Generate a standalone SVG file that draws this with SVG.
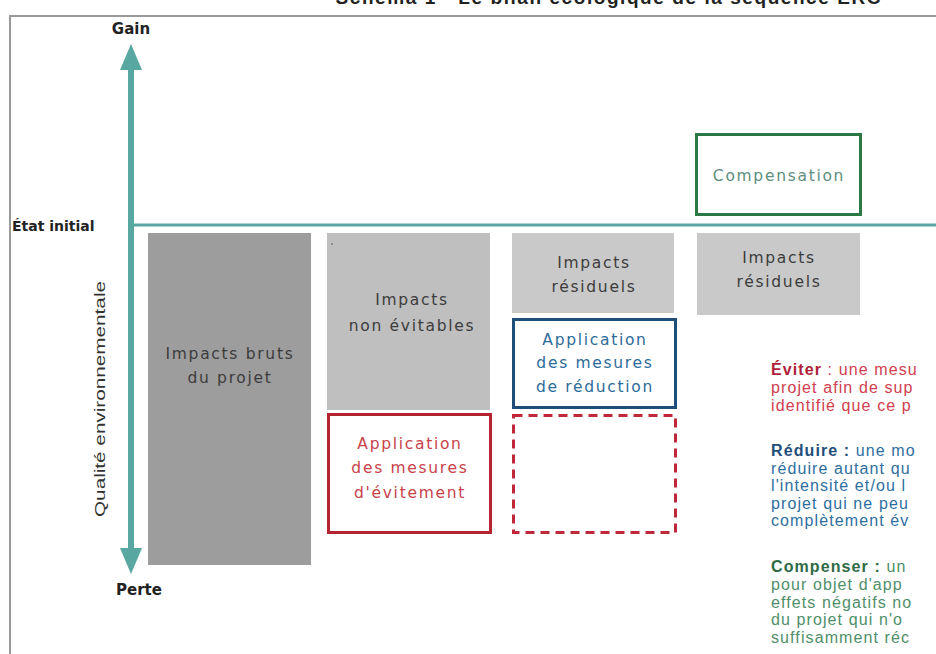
<svg xmlns="http://www.w3.org/2000/svg" width="936" height="654" viewBox="0 0 936 654">
<style>
.lbl{font-family:"DejaVu Sans",sans-serif;font-size:15.5px;letter-spacing:1.7px;text-anchor:middle}
.gray{fill:#3c3c3c}
.red{fill:#c8424a}
.blue{fill:#2d6c9a}
.grn{fill:#5e8e80}
.axis{font-family:"DejaVu Sans",sans-serif;font-weight:bold;fill:#222}
.side{font-family:"Liberation Sans",sans-serif;font-size:16px;letter-spacing:1.1px}
</style>
<rect width="936" height="654" fill="#fff"/>
<text x="608" y="4" font-family="Liberation Sans,sans-serif" font-weight="bold" font-size="19" text-anchor="middle" fill="#222" textLength="545">Schéma 1 - Le bilan écologique de la séquence ERC</text>
<path d="M10,654 V16 H936" fill="none" stroke="#9a9a9a" stroke-width="2"/>
<g id="connectors">
<line x1="131" y1="70" x2="131" y2="548" stroke="#58a7a1" stroke-width="6"/>
<path d="M120,70 L131,44 L142,70 z" fill="#58a7a1"/>
<path d="M120,548 L131,574 L142,548 z" fill="#58a7a1"/>
<line x1="131" y1="225" x2="936" y2="225" stroke="#58a7a1" stroke-width="3"/>
</g>
<g id="axis-labels">
<text class="axis" x="131" y="34" font-size="15" text-anchor="middle">Gain</text>
<text class="axis" x="139" y="595" font-size="15" text-anchor="middle">Perte</text>
<text class="axis" x="12" y="231" font-size="14">État initial</text>
<text x="0" y="0" transform="translate(105,399) rotate(-90)" font-family="Liberation Sans,sans-serif" font-size="14" fill="#333" text-anchor="middle" textLength="236" lengthAdjust="spacingAndGlyphs">Qualité environnementale</text>
</g>
<g id="impacts-bruts">
<rect x="148" y="233" width="163" height="332" fill="#9d9d9d"/>
<text class="lbl gray" x="230" y="359">Impacts bruts</text>
<text class="lbl gray" x="230" y="383">du projet</text>
</g>
<g id="impacts-non-evitables">
<rect x="327" y="233" width="163" height="177" fill="#bfbfbf"/>
<circle cx="332" cy="244" r="0.8" fill="#555"/>
<text class="lbl gray" x="412" y="305">Impacts</text>
<text class="lbl gray" x="412" y="331">non évitables</text>
</g>
<g id="evitement">
<rect x="328.5" y="414.5" width="162" height="118" fill="#fff" stroke="#b5252f" stroke-width="3"/>
<text class="lbl red" x="410" y="449">Application</text>
<text class="lbl red" x="410" y="473">des mesures</text>
<text class="lbl red" x="410" y="498">d'évitement</text>
</g>
<g id="impacts-residuels-1">
<rect x="512" y="233" width="162" height="80" fill="#c9c9c9"/>
<text class="lbl gray" x="594" y="268">Impacts</text>
<text class="lbl gray" x="594" y="292">résiduels</text>
</g>
<g id="reduction">
<rect x="513.5" y="319.5" width="162" height="88" fill="#fff" stroke="#1f4e79" stroke-width="3"/>
<text class="lbl blue" x="595" y="345">Application</text>
<text class="lbl blue" x="595" y="368">des mesures</text>
<text class="lbl blue" x="595" y="392">de réduction</text>
</g>
<g id="evitement-dashed">
<rect x="513.5" y="415.5" width="162" height="117" fill="none" stroke="#c0283a" stroke-width="3" stroke-dasharray="9,6"/>
</g>
<g id="impacts-residuels-2">
<rect x="697" y="233" width="163" height="82" fill="#c9c9c9"/>
<text class="lbl gray" x="779" y="263">Impacts</text>
<text class="lbl gray" x="779" y="287">résiduels</text>
</g>
<g id="compensation">
<rect x="696.5" y="134.5" width="164" height="80" fill="#fff" stroke="#2b7a45" stroke-width="3"/>
<text class="lbl grn" x="779" y="181">Compensation</text>
</g>
<g id="legend">
<text class="side" x="771" y="375" fill="#d0404e"><tspan font-weight="bold" fill="#b01e38">Éviter</tspan> : une mesu</text>
<text class="side" x="771" y="393" fill="#d0404e">projet afin de sup</text>
<text class="side" x="771" y="411" fill="#d0404e">identifié que ce p</text>
<text class="side" x="771" y="456" fill="#2f6f9f"><tspan font-weight="bold" fill="#1f4e79">Réduire :</tspan> une mo</text>
<text class="side" x="771" y="474" fill="#2f6f9f">réduire autant qu</text>
<text class="side" x="771" y="491" fill="#2f6f9f">l'intensité et/ou l</text>
<text class="side" x="771" y="509" fill="#2f6f9f">projet qui ne peu</text>
<text class="side" x="771" y="526" fill="#2f6f9f">complètement év</text>
<text class="side" x="771" y="572" fill="#4f8f6a"><tspan font-weight="bold" fill="#2e6b46">Compenser :</tspan> un</text>
<text class="side" x="771" y="590" fill="#4f8f6a">pour objet d'app</text>
<text class="side" x="771" y="608" fill="#4f8f6a">effets négatifs no</text>
<text class="side" x="771" y="625" fill="#4f8f6a">du projet qui n'o</text>
<text class="side" x="771" y="643" fill="#4f8f6a">suffisamment réc</text>
</g>
</svg>
